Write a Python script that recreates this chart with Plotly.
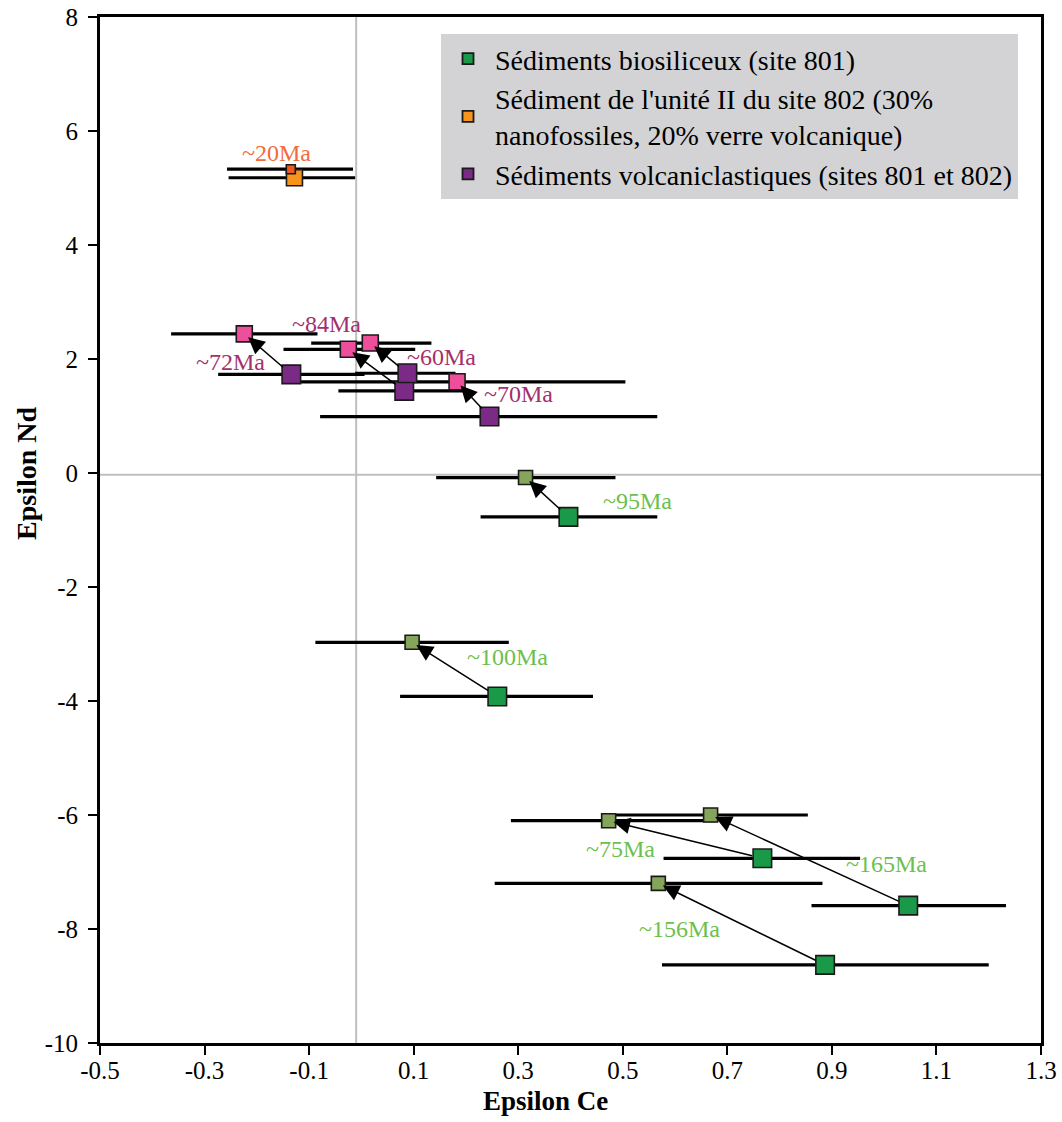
import plotly.graph_objects as go

# ---------------- data ----------------
# Sédiments biosiliceux (site 801) – measured (large dark green) and corrected (small olive)
bio_x = [0.396, 0.260, 0.767, 1.046, 0.887]
bio_y = [-0.77, -3.92, -6.76, -7.59, -8.63]
bio_xlo = [0.228, 0.074, 0.578, 0.861, 0.575]
bio_xhi = [0.566, 0.443, 0.954, 1.233, 1.200]

bioc_x = [0.314, 0.097, 0.473, 0.668, 0.568]
bioc_y = [-0.08, -2.97, -6.10, -6.00, -7.20]
bioc_xlo = [0.143, -0.088, 0.286, 0.460, 0.255]
bioc_xhi = [0.486, 0.282, 0.680, 0.854, 0.882]
bio_ages = ["~95Ma", "~100Ma", "~75Ma", "~165Ma", "~156Ma"]
bio_lab_x = [0.529, 0.280, 0.495, 1.005, 0.609]
bio_lab_y = [-0.49, -3.23, -6.60, -6.86, -8.00]

# Sédiments volcaniclastiques (sites 801 et 802) – measured (purple) and corrected (pink)
vol_x = [-0.134, 0.082, 0.088, 0.245]
vol_y = [1.73, 1.44, 1.75, 0.99]
vol_xlo = [-0.274, -0.044, -0.012, -0.079]
vol_xhi = [0.006, 0.208, 0.180, 0.566]

volc_x = [-0.224, -0.025, 0.017, 0.183]
volc_y = [2.44, 2.17, 2.28, 1.60]
volc_xlo = [-0.364, -0.149, -0.096, -0.117]
volc_xhi = [-0.084, 0.103, 0.134, 0.505]
vol_ages = ["~72Ma", "~84Ma", "~60Ma", "~70Ma"]
vol_lab_x = [-0.251, -0.066, 0.154, 0.301]
vol_lab_y = [1.95, 2.61, 2.04, 1.38]

# Sédiment de l'unité II du site 802
u2_x = [-0.128]
u2_y = [5.18]
u2_xlo = [-0.254]
u2_xhi = [-0.012]
u2c_x = [-0.135]
u2c_y = [5.33]
u2c_xlo = [-0.257]
u2c_xhi = [-0.016]
u2_ages = ["~20Ma"]
u2_lab_x = [-0.163]
u2_lab_y = [5.61]

x_ticks = [-0.5, -0.3, -0.1, 0.1, 0.3, 0.5, 0.7, 0.9, 1.1, 1.3]
x_ticktext = ["-0.5", "-0.3", "-0.1", "0.1", "0.3", "0.5", "0.7", "0.9", "1.1", "1.3"]
y_ticks = [8, 6, 4, 2, 0, -2, -4, -6, -8, -10]
y_ticktext = ["8", "6", "4", "2", "0", "-2", "-4", "-6", "-8", "-10"]

legend_names = [
    "Sédiments biosiliceux (site 801)",
    "Sédiment de l'unité II du site 802 (30%<br>nanofossiles, 20% verre volcanique)",
    "Sédiments volcaniclastiques (sites 801 et 802)",
]

# ---------------- style ----------------
FONT = "Liberation Serif, Times New Roman, serif"
GREEN = "#1a9a48"
OLIVE = "#84a55a"
ORANGE = "#f7941d"
ORANGE_RED = "#ee5a24"
PURPLE = "#7b2a86"
PINK = "#ee4f9b"
OUTLINE = "#1a1a1a"
LAB_GREEN = "#6cbf4e"
LAB_PURPLE = "#a42f6b"
LAB_ORANGE = "#f26b3a"

L, R, T, B = 100, 21, 17, 79
W, H = 1062, 1122
PW = W - L - R
PH = H - T - B

fig = go.Figure()


def err_trace(xs, ys, lo, hi, thick=3.2):
    return go.Scatter(
        x=xs, y=ys, mode="markers",
        marker=dict(size=2, color="rgba(0,0,0,0)"),
        error_x=dict(type="data", symmetric=False,
                     array=[h - x for h, x in zip(hi, xs)],
                     arrayminus=[x - l for l, x in zip(lo, xs)],
                     color="black", thickness=thick, width=0),
        showlegend=False, hoverinfo="skip")


def mk_trace(xs, ys, color, size):
    return go.Scatter(
        x=xs, y=ys, mode="markers",
        marker=dict(symbol="square", size=size, color=color,
                    line=dict(color=OUTLINE, width=1.6)),
        showlegend=False)


# error bars first (below all markers)
for xs, ys, lo, hi in [
    (bio_x, bio_y, bio_xlo, bio_xhi),
    (bioc_x, bioc_y, bioc_xlo, bioc_xhi),
    (vol_x, vol_y, vol_xlo, vol_xhi),
    (volc_x, volc_y, volc_xlo, volc_xhi),
    (u2_x, u2_y, u2_xlo, u2_xhi),
    (u2c_x, u2c_y, u2c_xlo, u2c_xhi),
]:
    fig.add_trace(err_trace(xs, ys, lo, hi))

# markers
fig.add_trace(mk_trace(bio_x, bio_y, GREEN, 18.5))
fig.add_trace(mk_trace(vol_x, vol_y, PURPLE, 18.5))
fig.add_trace(mk_trace(u2_x, u2_y, ORANGE, 16))
fig.add_trace(mk_trace(bioc_x, bioc_y, OLIVE, 14))
fig.add_trace(mk_trace(volc_x, volc_y, PINK, 16))
fig.add_trace(mk_trace(u2c_x, u2c_y, ORANGE_RED, 9))

# legend entries
for name, color in zip(legend_names, [GREEN, ORANGE, PURPLE]):
    fig.add_trace(go.Scatter(
        x=[None], y=[None], mode="markers", name=name,
        marker=dict(symbol="square", size=11, color=color,
                    line=dict(color=OUTLINE, width=1.8))))

annotations = []
# arrows measured -> corrected
for bx, by, cx, cy in list(zip(bio_x, bio_y, bioc_x, bioc_y)) + list(zip(vol_x, vol_y, volc_x, volc_y)):
    annotations.append(dict(
        x=cx, y=cy, ax=bx, ay=by, xref="x", yref="y", axref="x", ayref="y",
        text="", showarrow=True, arrowhead=2, arrowsize=2.2, arrowwidth=1.5,
        arrowcolor="black", standoff=5, startstandoff=9))

for labs, lx, ly, col in [
    (bio_ages, bio_lab_x, bio_lab_y, LAB_GREEN),
    (vol_ages, vol_lab_x, vol_lab_y, LAB_PURPLE),
    (u2_ages, u2_lab_x, u2_lab_y, LAB_ORANGE),
]:
    for t, x, y in zip(labs, lx, ly):
        annotations.append(dict(
            x=x, y=y, xref="x", yref="y", text=t, showarrow=False,
            font=dict(family=FONT, size=24, color=col)))

# axis titles (placed as in the reference)
annotations.append(dict(
    x=(545 - L) / PW, y=-(1101 - (H - B)) / PH, xref="paper", yref="paper",
    text="<b>Epsilon Ce</b>", showarrow=False,
    font=dict(family=FONT, size=27, color="black"),
    yanchor="middle", xanchor="center"))
annotations.append(dict(
    x=-(L - 26) / PW, y=((H - B) - 474) / PH, xref="paper", yref="paper",
    text="<b>Epsilon Nd</b>", showarrow=False, textangle=-90,
    font=dict(family=FONT, size=28, color="black"),
    yanchor="middle", xanchor="center"))

fig.update_layout(
    width=W, height=H,
    margin=dict(l=L, r=R, t=T, b=B, autoexpand=False),
    paper_bgcolor="white", plot_bgcolor="white",
    font=dict(family=FONT, size=25, color="black"),
    showlegend=True,
    legend=dict(
        x=(441 - L) / PW, y=((H - B) - 34) / PH, xanchor="left", yanchor="top",
        bgcolor="#d3d3d5", borderwidth=0, itemwidth=44,
        font=dict(family=FONT, size=28, color="black"),
        tracegroupgap=0),
    annotations=annotations,
    shapes=[
        dict(type="line", xref="x", yref="paper", x0=-0.01, x1=-0.01, y0=0, y1=1,
             line=dict(color="#bfbfbf", width=2), layer="below"),
        dict(type="line", xref="paper", yref="y", x0=0, x1=1, y0=-0.03, y1=-0.03,
             line=dict(color="#bfbfbf", width=2), layer="below"),
    ],
)

fig.update_xaxes(
    range=[-0.5, 1.3], tickvals=x_ticks, ticktext=x_ticktext, automargin=False,
    showgrid=False, zeroline=False, showline=True, linecolor="black", linewidth=3,
    mirror=True, ticks="outside", ticklen=9, tickwidth=2, tickcolor="black",
    ticklabelstandoff=-6,
    tickfont=dict(family=FONT, size=25, color="black"))
fig.update_yaxes(
    range=[-10, 8], tickvals=y_ticks, ticktext=y_ticktext, automargin=False,
    showgrid=False, zeroline=False, showline=True, linecolor="black", linewidth=3,
    mirror=True, ticks="outside", ticklen=9, tickwidth=2, tickcolor="black",
    ticklabelstandoff=5,
    tickfont=dict(family=FONT, size=25, color="black"))

fig.write_html("out.html", config={"displayModeBar": False},
               post_script="document.body.style.margin='0';")
